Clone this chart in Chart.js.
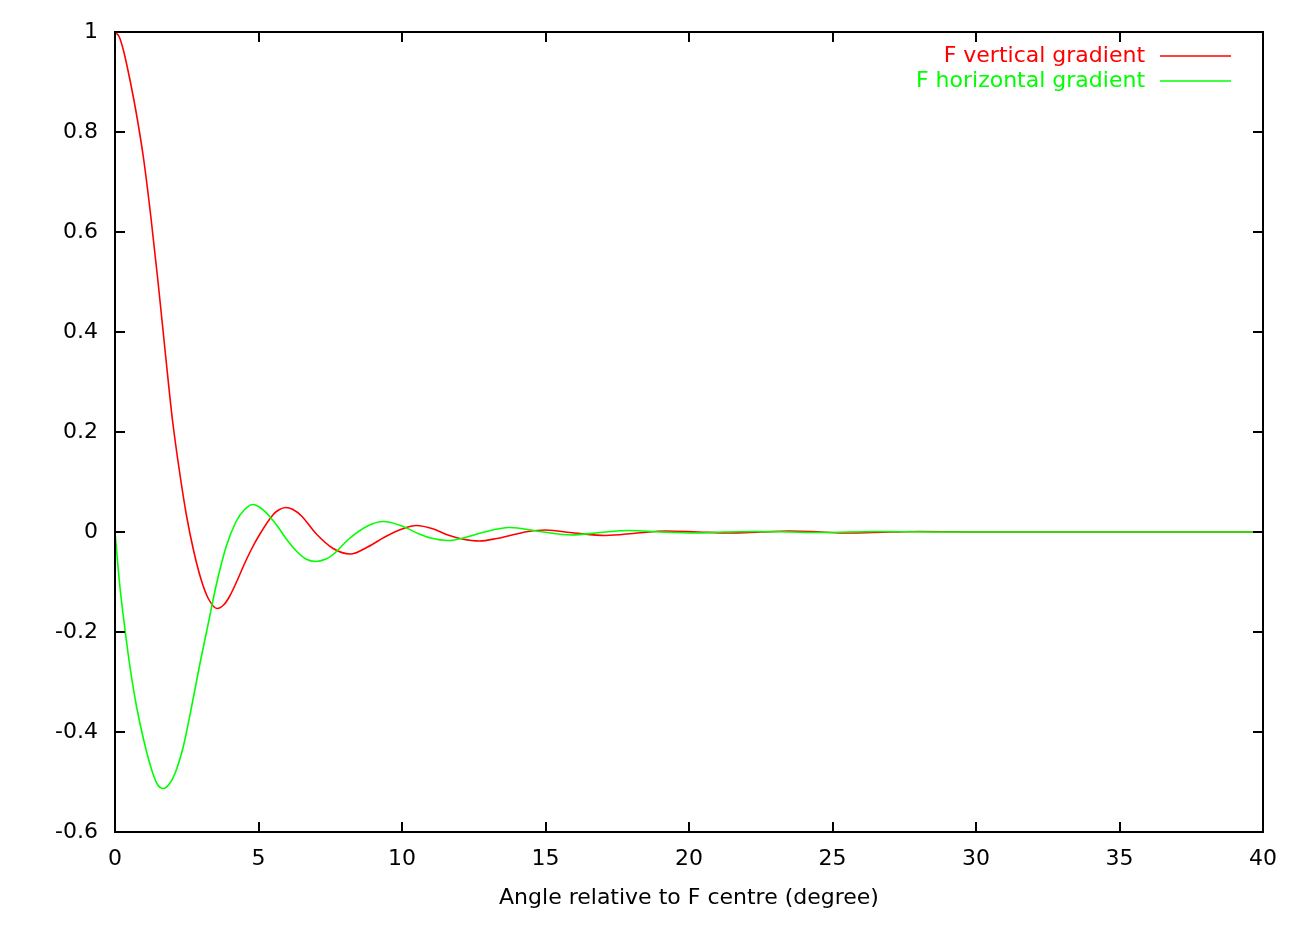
<!DOCTYPE html>
<html>
<head>
<meta charset="utf-8">
<title>F gradient vs angle</title>
<script src="https://cdn.jsdelivr.net/npm/chart.js@4.4.1/dist/chart.umd.min.js"></script>
<style>
	html, body { margin: 0; padding: 0; background: #fff; }
	#gradChart { display: block; }
</style>
</head>
<body>
<canvas id="gradChart" width="1291" height="928"></canvas>
<script>
// angle from F centre (degree) and the sampled gradient for each curve
const vertAngle = [0, 0.15, 0.3, 0.5, 0.75, 1.0, 1.25, 1.5, 1.75, 2.0, 2.25, 2.5, 2.75, 3.0, 3.25, 3.56, 3.8, 4.0, 4.25, 4.5, 4.75, 5.05, 5.5, 5.7, 5.95, 6.2, 6.5, 7.0, 7.6, 8.2, 8.8, 9.4, 10.0, 10.5, 11.1, 11.6, 12.1, 12.7, 13.3, 13.9, 14.4, 15.0, 16.0, 17.1, 18.2, 19.2, 20.3, 21.4, 22.5, 23.5, 24.6, 25.5, 27, 28, 30, 32, 35, 40];
const vertGradient = [1, 0.99, 0.962, 0.91, 0.835, 0.745, 0.63, 0.5, 0.36, 0.225, 0.12, 0.03, -0.04, -0.095, -0.133, -0.153, -0.145, -0.128, -0.098, -0.065, -0.035, -0.004, 0.034, 0.044, 0.049, 0.045, 0.032, -0.003, -0.033, -0.044, -0.03, -0.01, 0.006, 0.013, 0.006, -0.006, -0.014, -0.018, -0.013, -0.005, 0.001, 0.004, -0.002, -0.007, -0.002, 0.002, 0, -0.002, 0, 0.002, 0, -0.002, 0, 0.001, 0, 0, 0, 0];

const horizAngle = [0, 0.17, 0.35, 0.52, 0.75, 1.0, 1.28, 1.48, 1.68, 1.88, 2.09, 2.38, 2.67, 2.96, 3.25, 3.54, 3.88, 4.23, 4.5, 4.81, 5.1, 5.39, 5.68, 5.97, 6.3, 6.65, 7.0, 7.35, 7.6, 8.17, 8.8, 9.35, 10.0, 10.6, 11.0, 11.6, 12.2, 12.8, 13.75, 14.8, 15.9, 16.9, 17.9, 19.0, 20.2, 21.2, 22.3, 23.5, 24.6, 26.5, 28.5, 32, 40];
const horizGradient = [0, -0.109, -0.196, -0.269, -0.349, -0.416, -0.476, -0.505, -0.513, -0.505, -0.483, -0.429, -0.349, -0.263, -0.183, -0.103, -0.028, 0.022, 0.044, 0.055, 0.047, 0.031, 0.01, -0.014, -0.037, -0.054, -0.059, -0.054, -0.045, -0.013, 0.012, 0.021, 0.012, -0.004, -0.012, -0.017, -0.011, -0.001, 0.009, 0.001, -0.006, -0.001, 0.003, 0, -0.002, 0, 0.001, 0, -0.001, 0.001, 0, 0, 0];

const xTickValues = [0, 5, 10, 15, 20, 25, 30, 35, 40];
const yTickValues = [-0.6, -0.4, -0.2, 0, 0.2, 0.4, 0.6, 0.8, 1];

const seriesLabels = ["F vertical gradient", "F horizontal gradient"];
const seriesColors = ["#ff0000", "#00ff00"];

const FONT = '"DejaVu Sans", "Liberation Sans", sans-serif';

// gnuplot style box: border, inward ticks on all four sides, key at top right
const plotFrame = {
	id: "plotFrame",
	afterDraw(chart) {
		const { ctx, chartArea: a, scales: { x, y } } = chart;
		ctx.save();
		ctx.strokeStyle = "#000";
		ctx.lineWidth = 2;
		ctx.strokeRect(a.left, a.top, a.right - a.left, a.bottom - a.top);

		ctx.beginPath();
		x.ticks.forEach(t => {
			const px = Math.round(x.getPixelForValue(t.value));
			ctx.moveTo(px, a.bottom); ctx.lineTo(px, a.bottom - 10);
			ctx.moveTo(px, a.top); ctx.lineTo(px, a.top + 10);
		});
		y.ticks.forEach(t => {
			const py = Math.round(y.getPixelForValue(t.value));
			ctx.moveTo(a.left, py); ctx.lineTo(a.left + 10, py);
			ctx.moveTo(a.right, py); ctx.lineTo(a.right - 10, py);
		});
		ctx.stroke();

		// key
		ctx.font = "22px " + FONT;
		ctx.textAlign = "right";
		ctx.textBaseline = "middle";
		chart.data.datasets.forEach((ds, i) => {
			const rowY = a.top + 24 + i * 25;
			ctx.fillStyle = ds.borderColor;
			ctx.fillText(ds.label, a.right - 118, rowY);
			ctx.strokeStyle = ds.borderColor;
			ctx.lineWidth = 1.6;
			ctx.beginPath();
			ctx.moveTo(a.right - 103, rowY);
			ctx.lineTo(a.right - 32, rowY);
			ctx.stroke();
		});
		ctx.restore();
	}
};

document.addEventListener("DOMContentLoaded", () => {

	const toPoints = (xs, ys) => xs.map((v, i) => ({ x: v, y: ys[i] }));

	Chart.defaults.font.family = FONT;
	Chart.defaults.font.size = 22;
	Chart.defaults.color = "#000";

	window.gradChart = new Chart(document.getElementById("gradChart"), {
		type: "line",
		data: {
			datasets: [
				{
					label: seriesLabels[0],
					data: toPoints(vertAngle, vertGradient),
					borderColor: seriesColors[0],
					borderWidth: 1.6,
					pointRadius: 0,
					cubicInterpolationMode: "monotone",
					fill: false,
					order: 1
				},
				{
					label: seriesLabels[1],
					data: toPoints(horizAngle, horizGradient),
					borderColor: seriesColors[1],
					borderWidth: 1.6,
					pointRadius: 0,
					cubicInterpolationMode: "monotone",
					fill: false,
					order: 0
				}
			]
		},
		options: {
			responsive: false,
			animation: false,
			devicePixelRatio: 1,
			layout: {
				padding: { left: 0, top: 32, right: 26, bottom: 0 }
			},
			plugins: {
				legend: { display: false },
				tooltip: { enabled: false }
			},
			scales: {
				x: {
					type: "linear",
					min: 0,
					max: 40,
					afterBuildTicks: axis => { axis.ticks = xTickValues.map(v => ({ value: v })); },
					afterFit: axis => { axis.height = 96; },
					grid: { display: false, drawTicks: false },
					border: { display: false },
					ticks: {
						padding: 14,
						maxRotation: 0,
						callback: v => String(v)
					},
					title: {
						display: true,
						text: "Angle relative to F centre (degree)",
						padding: { top: 0, bottom: 17 }
					}
				},
				y: {
					type: "linear",
					min: -0.6,
					max: 1,
					afterBuildTicks: axis => { axis.ticks = yTickValues.map(v => ({ value: v })); },
					afterFit: axis => { axis.width = 115; },
					grid: { display: false, drawTicks: false },
					border: { display: false },
					ticks: {
						padding: 17,
						callback: v => String(+v.toFixed(1))
					}
				}
			}
		},
		plugins: [plotFrame]
	});
});
</script>
</body>
</html>
